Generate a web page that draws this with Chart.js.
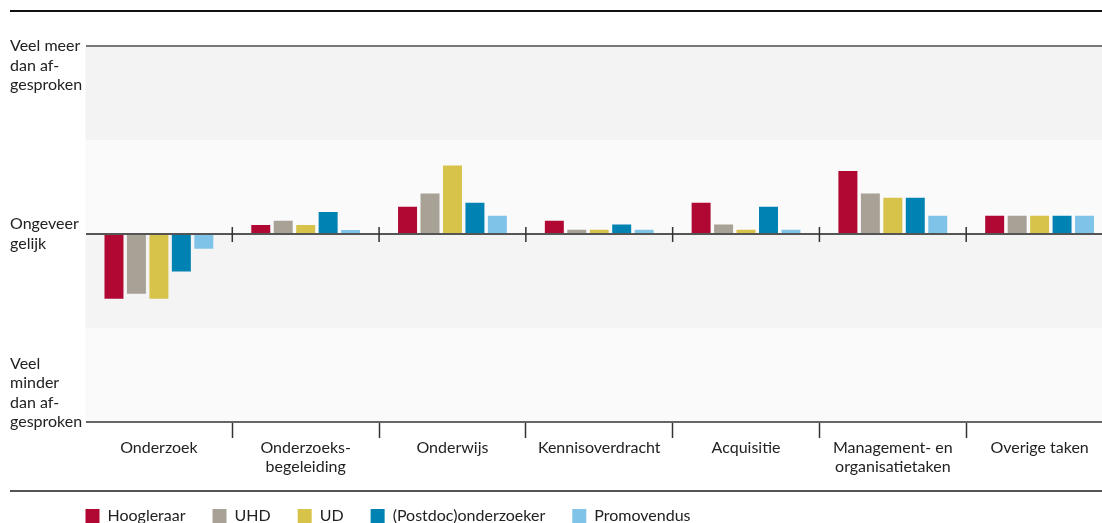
<!DOCTYPE html>
<html><head><meta charset="utf-8">
<script src="https://cdn.jsdelivr.net/npm/chart.js@4.4.0/dist/chart.umd.min.js"></script>
<style>html,body{margin:0;padding:0;background:#fff;overflow:hidden;}#wrap{width:1113px;height:523px;}</style>
</head><body><div id="wrap"><canvas id="c" width="1113" height="523"></canvas></div>
<script>
const categories = ["Onderzoek", ["Onderzoeks-","begeleiding"], "Onderwijs", "Kennisoverdracht", "Acquisitie", ["Management- en","organisatietaken"], "Overige taken"];
const seriesNames = ["Hoogleraar", "UHD", "UD", "(Postdoc)onderzoeker", "Promovendus"];
const seriesColors = ["#b00733", "#a8a196", "#d8c34a", "#0082b2", "#7fc4e8"];
const hoogleraar  = [-0.69, 0.096, 0.29, 0.14, 0.333, 0.67, 0.195];
const uhd         = [-0.635, 0.14, 0.43, 0.046, 0.10, 0.43, 0.195];
const ud          = [-0.69, 0.096, 0.73, 0.046, 0.046, 0.386, 0.195];
const postdoc     = [-0.40, 0.234, 0.333, 0.10, 0.29, 0.386, 0.195];
const promovendus = [-0.156, 0.043, 0.195, 0.046, 0.046, 0.195, 0.195];
const yTickValues = [-2, -1, 0, 1, 2];
const yTickLabels = [
  ["Veel","minder","dan af-","gesproken","","",""],
  [""],
  ["Ongeveer","gelijk"],
  [""],
  ["","","Veel meer","dan af-","gesproken"]
];
const series = [hoogleraar, uhd, ud, postdoc, promovendus];

const FONT = {family: "Lato, 'Open Sans', sans-serif", size: 16, lineHeight: 1.22};
const gridColors = {"-2": "#666", "-1": "#777", "0": "#555", "1": "#1a1a1a", "2": "#777"};

const decor = {
  id: 'decor',
  beforeDraw(chart) {
    const {ctx, chartArea: a, scales: {y}} = chart;
    const bands = [[2, 1, '#f3f3f3'], [1, 0, '#fafafa'], [0, -1, '#f4f4f4'], [-1, -2, '#fafafa']];
    ctx.save();
    for (const [hi, lo, c] of bands) {
      const t = y.getPixelForValue(hi), b = y.getPixelForValue(lo);
      ctx.fillStyle = c;
      ctx.fillRect(a.left, t, a.right - a.left, b - t);
    }
    ctx.restore();
  },
  afterDatasetsDraw(chart) {
    const {ctx, scales: {x, y}} = chart;
    const y0 = y.getPixelForValue(0);
    ctx.save();
    ctx.strokeStyle = '#333';
    ctx.lineWidth = 1.5;
    for (let i = 1; i < categories.length; i++) {
      const xb = (x.getPixelForValue(i - 1) + x.getPixelForValue(i)) / 2;
      ctx.beginPath(); ctx.moveTo(xb, y0 - 7); ctx.lineTo(xb, y0 + 8); ctx.stroke();
    }
    ctx.restore();
  },
  afterLayout(chart) {
    const lg = chart.legend;
    const p = lg.options.labels.padding;
    const dx = chart.chartArea.left - p - lg.left;
    lg.left += dx; lg.right += dx;
    const dy = (chart.chartArea.bottom + 59) - lg.top;
    lg.top += dy; lg.bottom += dy;
  },
  afterDraw(chart) {
    const {ctx, chartArea: a, scales: {y}} = chart;
    ctx.save();
    ctx.lineWidth = 2;
    ctx.strokeStyle = '#111';
    ctx.beginPath(); ctx.moveTo(y.left, a.top - 35); ctx.lineTo(chart.width, a.top - 35); ctx.stroke();
    ctx.strokeStyle = '#555';
    ctx.beginPath(); ctx.moveTo(y.left, a.bottom + 69); ctx.lineTo(chart.width, a.bottom + 69); ctx.stroke();
    ctx.restore();
  }
};

new Chart(document.getElementById('c'), {
  type: 'bar',
  data: {
    labels: categories,
    datasets: series.map((d, i) => ({
      label: seriesNames[i], data: d, backgroundColor: seriesColors[i], borderWidth: 0,
      categoryPercentage: 0.765, barPercentage: 0.845
    }))
  },
  options: {
    responsive: false,
    animation: false,
    devicePixelRatio: 1,
    layout: {padding: {left: 10, top: 46, right: 0, bottom: 0}},
    plugins: {
      tooltip: {enabled: false},
      legend: {
        position: 'bottom', align: 'start', maxHeight: 44,
        labels: {boxWidth: 14, boxHeight: 14, padding: 27, color: '#222', font: FONT}
      }
    },
    scales: {
      x: {
        offset: true,
        grid: {
          display: true, drawOnChartArea: false, drawTicks: true, tickLength: 16, tickWidth: 1.5,
          tickColor: ctx => (ctx.index === 0 ? 'rgba(0,0,0,0)' : '#333'), offset: true
        },
        border: {display: false},
        ticks: {color: '#222', font: FONT, padding: 0, autoSkip: false, maxRotation: 0, minRotation: 0},
        afterFit(s) { s.paddingLeft = 0; s.paddingRight = 0; s.height = Math.max(0, s.chart.height - 422 - s.chart.legend.height); }
      },
      y: {
        min: -2, max: 2,
        afterBuildTicks(s) { s.ticks = yTickValues.map(v => ({value: v})); },
        grid: {
          drawTicks: false,
          color: ctx => gridColors[String(ctx.tick ? ctx.tick.value : 0)],
          lineWidth: 2
        },
        border: {display: false},
        ticks: {
          color: '#222', font: FONT, crossAlign: 'far', padding: 0,
          callback: (v) => yTickLabels[yTickValues.indexOf(v)]
        },
        afterFit(s) { s.width = 75.5; s.paddingTop = 0; s.paddingBottom = 0; }
      }
    }
  },
  plugins: [decor]
});
</script></body></html>
